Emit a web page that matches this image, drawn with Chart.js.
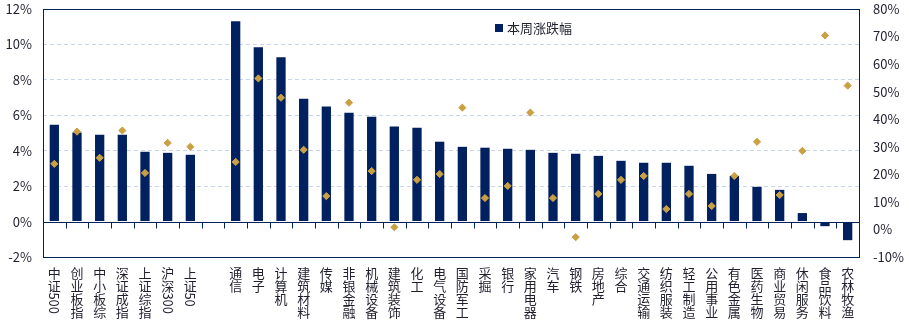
<!DOCTYPE html>
<html><head><meta charset="utf-8">
<script src="https://cdn.jsdelivr.net/npm/chart.js@4"></script>
<style>html,body{margin:0;padding:0;background:#fff;}canvas{display:block}</style>
</head><body>
<canvas id="c" width="909" height="322"></canvas>
<script>
const categories = ['中证500','创业板指','中小板综','深证成指','上证综指','沪深300','上证50','',
  '通信','电子','计算机','建筑材料','传媒','非银金融','机械设备','建筑装饰','化工','电气设备',
  '国防军工','采掘','银行','家用电器','汽车','钢铁','房地产','综合','交通运输','纺织服装',
  '轻工制造','公用事业','有色金属','医药生物','商业贸易','休闲服务','食品饮料','农林牧渔'];
const weeklyChange = [5.47,5.03,4.90,4.90,3.94,3.88,3.77,null,
  11.31,9.84,9.27,6.94,6.49,6.15,5.92,5.36,5.30,4.51,
  4.22,4.17,4.11,4.05,3.88,3.83,3.71,3.43,3.32,3.32,
  3.15,2.69,2.58,1.96,1.79,0.48,-0.26,-1.05];
const ytdChange = [23.8,35.5,26.0,35.9,20.5,31.4,30.0,null,
  24.5,54.8,47.8,28.9,12.1,46.0,21.2,0.8,18.0,20.1,
  44.2,11.4,15.8,42.4,11.4,-2.8,12.9,18.0,19.4,7.4,
  12.9,8.5,19.4,31.8,12.5,28.5,70.4,52.2];
const leftTicks = [-2,0,2,4,6,8,10,12];
const rightTicks = [-10,0,10,20,30,40,50,60,70,80];
const seriesNames = ['本周涨跌幅','年初至今涨跌幅（右轴）'];

const NAVY = '#002060';
const GOLD = '#C9A044';
const TEXT = '#1f1f2e';
const CLEAR = 'rgba(0,0,0,0)';
const FONT = '"Noto Sans CJK SC", "Noto Sans", sans-serif';

const decorPlugin = {
  id: 'decor',
  afterDatasetsDraw(chart) {
    const {ctx, chartArea: a, scales} = chart;
    const x = scales.x, y = scales.y;
    ctx.save();
    ctx.strokeStyle = NAVY; ctx.lineWidth = 1;
    const zy = Math.round(y.getPixelForValue(0)) + 0.5;
    ctx.beginPath();
    ctx.moveTo(a.left, zy); ctx.lineTo(a.right, zy);
    const half = (x.getPixelForValue(1) - x.getPixelForValue(0)) / 2;
    for (let i = 0; i <= categories.length; i++) {
      const bx = Math.round(x.getPixelForValue(i) - half) + 0.5;
      ctx.moveTo(bx, zy); ctx.lineTo(bx, zy + 6);
    }
    ctx.stroke();
    ctx.restore();
  },
  afterDraw(chart) {
    const {ctx, chartArea: a, scales} = chart;
    const x = scales.x;
    ctx.save();
    // frame
    ctx.strokeStyle = NAVY; ctx.lineWidth = 1;
    ctx.strokeRect(Math.round(a.left) + 0.5, Math.round(a.top) + 0.5,
      Math.round(a.right) - Math.round(a.left), Math.round(a.bottom) - Math.round(a.top));
    // legend
    const lx = a.left + a.width * 0.554, ly = a.top + 19;
    ctx.fillStyle = NAVY;
    ctx.fillRect(Math.round(lx), Math.round(ly - 4), 8, 8);
    ctx.fillStyle = TEXT;
    ctx.font = '13px ' + FONT;
    ctx.textAlign = 'left'; ctx.textBaseline = 'middle';
    ctx.fillText(chart.data.datasets[0].label, lx + 12, ly);
    // vertical category labels
    categories.forEach((lab, i) => {
      if (!lab) return;
      const cx = x.getPixelForValue(i);
      let yy = a.bottom + 10;
      const runs = lab.match(/[0-9A-Za-z]+|./g);
      runs.forEach(r => {
        if (/^[0-9A-Za-z]+$/.test(r)) {
          ctx.save();
          ctx.translate(cx, yy);
          ctx.rotate(Math.PI / 2);
          ctx.textAlign = 'left'; ctx.textBaseline = 'middle';
          ctx.fillText(r, 0, 0);
          ctx.restore();
          yy += ctx.measureText(r).width + 1;
        } else {
          ctx.textAlign = 'center'; ctx.textBaseline = 'top';
          ctx.fillText(r, cx, yy);
          yy += 12.7;
        }
      });
    });
    ctx.restore();
  }
};

new Chart(document.getElementById('c'), {
  type: 'bar',
  data: {
    labels: categories,
    datasets: [
      {
        type: 'bar', label: seriesNames[0], data: weeklyChange,
        backgroundColor: NAVY, borderWidth: 0,
        barPercentage: 0.41, categoryPercentage: 1.0,
        yAxisID: 'y', order: 2
      },
      {
        type: 'line', label: seriesNames[1], data: ytdChange,
        showLine: false, pointStyle: 'rectRot', pointRadius: 3.6,
        pointBackgroundColor: GOLD, pointBorderColor: GOLD, pointBorderWidth: 1,
        yAxisID: 'y1', order: 1
      }
    ]
  },
  options: {
    responsive: false,
    animation: false,
    layout: {autoPadding: false, padding: {top: 9, left: 0, right: 0, bottom: 0}},
    plugins: {legend: {display: false}, tooltip: {enabled: false}},
    scales: {
      x: {
        type: 'category', position: 'bottom', offset: true,
        grid: {display: false, offset: true},
        border: {display: false},
        ticks: {display: false},
        afterFit(s) { s.height = 65; }
      },
      y: {
        position: 'left',
        min: leftTicks[0], max: leftTicks[leftTicks.length - 1],
        grid: {
          drawTicks: true, tickLength: 11, tickColor: CLEAR,
          color: ctx => (ctx.tick && (ctx.tick.value === 0 || ctx.tick.value === leftTicks[0] || ctx.tick.value === leftTicks[leftTicks.length-1])) ? CLEAR : '#C8D6EC',
          lineWidth: 1
        },
        border: {display: false, dash: [4, 3]},
        ticks: {
          stepSize: leftTicks[1] - leftTicks[0],
          callback: v => v + '%',
          color: TEXT, padding: 0,
          font: {family: FONT, size: 13}
        },
        afterFit(s) { s.width = 43; }
      },
      y1: {
        position: 'right',
        min: rightTicks[0], max: rightTicks[rightTicks.length - 1],
        grid: {display: true, drawOnChartArea: false, drawTicks: true, tickLength: 14, tickColor: CLEAR, color: CLEAR},
        border: {display: false},
        ticks: {
          stepSize: rightTicks[1] - rightTicks[0],
          callback: v => v + '%',
          color: TEXT, padding: 0,
          font: {family: FONT, size: 13}
        },
        afterFit(s) { s.width = 50; }
      }
    }
  },
  plugins: [decorPlugin]
});
</script>
</body></html>
